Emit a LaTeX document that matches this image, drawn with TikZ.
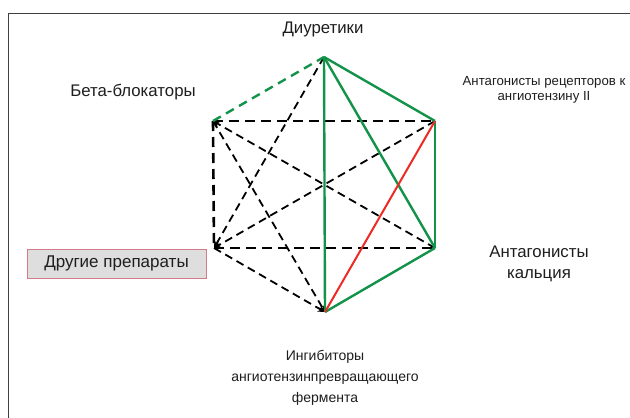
\documentclass[tikz,border=0pt]{standalone}
\usepackage{fontspec}
\setmainfont{Liberation Sans}
\usetikzlibrary{arrows.meta}
\definecolor{hgreen}{HTML}{13934A}
\definecolor{hred}{HTML}{EE2A24}
\definecolor{boxfill}{HTML}{DEDEDE}
\definecolor{boxline}{HTML}{D27C8A}
\definecolor{txt}{HTML}{1E1E1E}
\begin{document}
\begin{tikzpicture}[x=1pt,y=-1pt,
  thickdash/.style={black,line width=2.6pt,dash pattern=on 10pt off 6pt},
  thindash/.style={black,line width=1.8pt,dash pattern=on 8pt off 5pt},
  tip/.style={-{Stealth[length=7pt,width=7pt]}},
  gsolid/.style={hgreen,line width=2.4pt},
  gdash/.style={hgreen,line width=2.4pt,dash pattern=on 9pt off 6pt},
  rsolid/.style={hred,line width=2pt},
  lbl/.style={align=center,inner sep=0pt,font=\fontsize{16.8}{21.5}\selectfont,text=txt}]
\useasboundingbox (0,0) rectangle (630,418);
\fill[white] (0,0) rectangle (630,418);
\draw[black!75,line width=1pt] (8,430) -- (8,13) -- (640,13);
% vertices
\coordinate (T) at (324,57);
\coordinate (UL) at (213,121);
\coordinate (UR) at (435,121);
\coordinate (LL) at (214,248);
\coordinate (LR) at (435,248);
\coordinate (B) at (325,312);
% black dashed
\draw[thickdash] (UL) -- (UR);
\draw[thickdash] (UL) -- (LL);
\draw[thickdash] (LL) -- (LR);
\draw[thindash,tip] (LR) -- (UL);
\draw[thindash,tip] (UR) -- (LL);
\draw[thindash,tip] (T) -- (LL);
\draw[thindash,tip] (UL) -- (B);
\draw[thindash,tip] (LL) -- (B);
% green
\draw[gdash] (UL) -- (T);
\draw[gsolid] (T) -- (UR);
\draw[gsolid] (T) -- (B);
\draw[gsolid] (T) -- (LR);
\draw[gsolid] (UR) -- (LR);
\draw[gsolid] (LR) -- (B);
% red
\draw[rsolid] (B) -- (UR);
% labels
\node[lbl] (diu) at (323,29) {Диуретики};
\node[lbl] (beta) at (133,92) {Бета-блокаторы};
\node[lbl,font=\fontsize{13.2}{15.5}\selectfont] (ara) at (544,90) {Антагонисты рецепторов к\\ангиотензину II};
\node[lbl] (ca) at (539,264) {Антагонисты\\кальция};
\node[lbl,font=\fontsize{14}{21}\selectfont] (ace) at (325,378) {Ингибиторы\\ангиотензинпревращающего\\фермента};
\node[draw=boxline,fill=boxfill,line width=0.8pt,minimum width=179pt,minimum height=29pt,inner sep=0pt,font=\fontsize{17}{20}\selectfont,text=txt] (other) at (116.5,263.5) {Другие препараты};
\end{tikzpicture}
\end{document}
